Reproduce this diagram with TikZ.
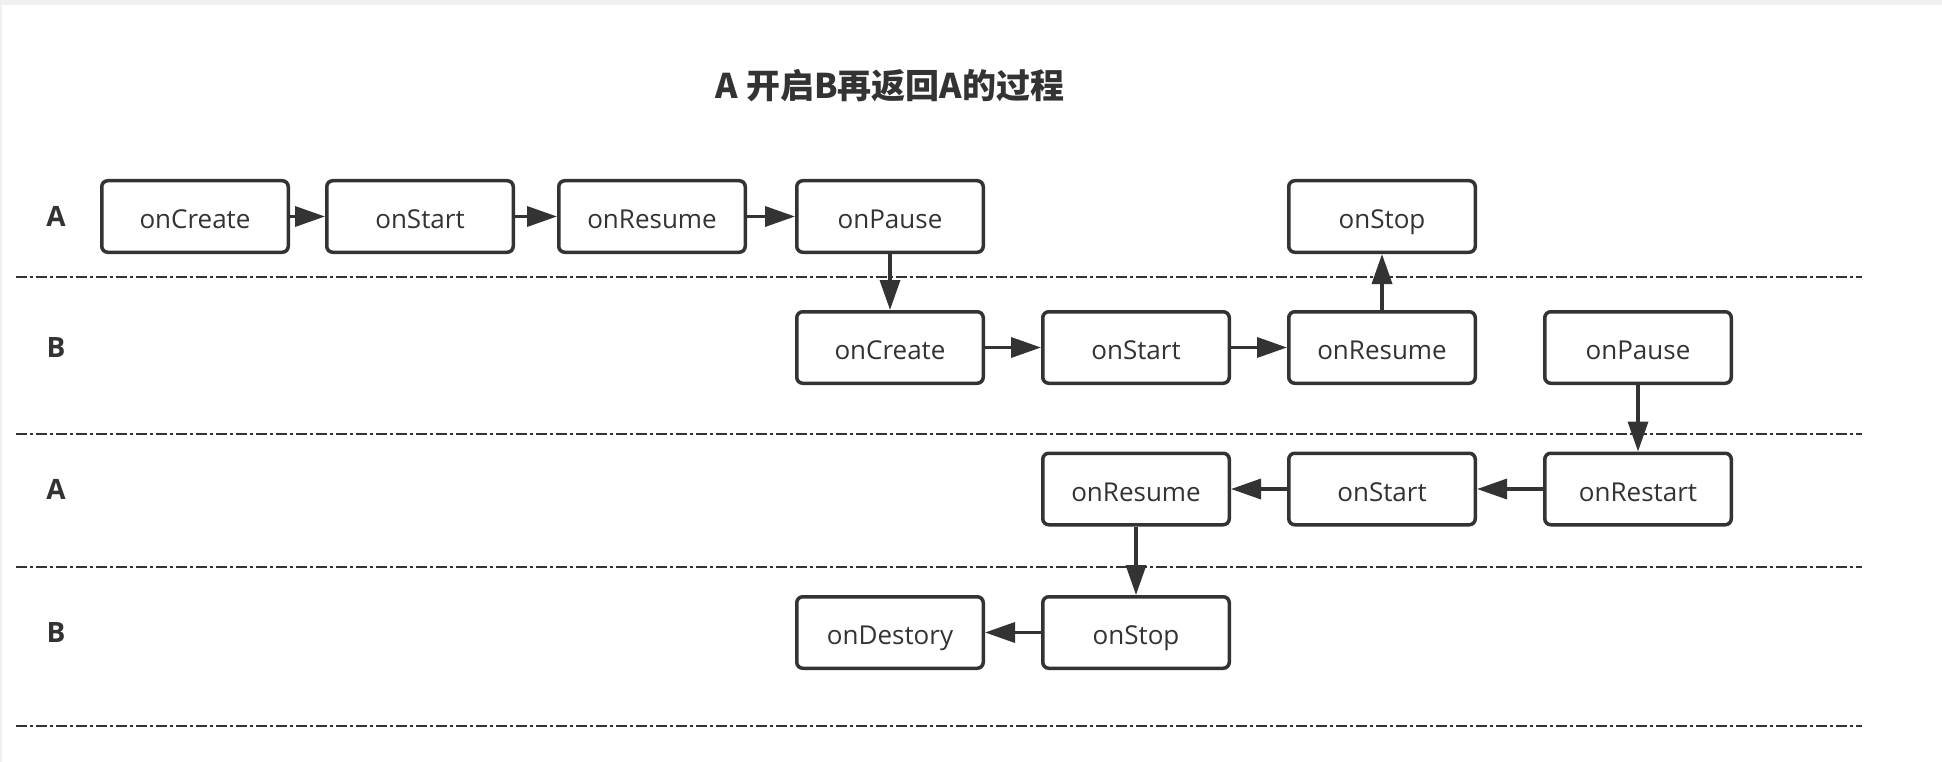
\documentclass[tikz,border=0pt]{standalone}
\usepackage{fontspec}
\setmainfont{Open Sans}
\newfontfamily\cjk{Noto Sans CJK SC}
\usetikzlibrary{arrows.meta}
\definecolor{ink}{HTML}{333333}
\definecolor{bar}{HTML}{F0F0F0}
\tikzset{
	stage/.style={draw=ink, line width=3.5pt, rounded corners=6pt, minimum width=186.5pt, minimum height=71.5pt, inner sep=0pt, text height=27pt, text depth=3pt, fill=white, text=ink, font=\fontsize{26}{30}\selectfont},
	flow/.style={draw=ink, line width=3.5pt, -{Triangle[length=30pt,width=20pt]}},
	lane/.style={draw=ink, line width=2.3pt, dash pattern=on 11pt off 3pt on 3pt off 3pt},
	who/.style={text=ink, font=\bfseries\fontsize{28}{32}\selectfont}
}
\begin{document}
\begin{tikzpicture}[x=1pt,y=-1pt]
	%page
	\useasboundingbox (0,0) rectangle (1942,762);
	\fill[white] (0,0) rectangle (1942,762);
	\fill[bar] (0,0) rectangle (1942,5);
	\fill[bar] (0,0) rectangle (1.5,762);
	
	%title
	\node[text=ink, font=\cjk\bfseries\fontsize{34}{38}\selectfont] (title) at (890,86) {A 开启B再返回A的过程};
	
	%lane separators
	\draw[lane] (16,277)--(1862,277);		%A | B
	\draw[lane] (16,434)--(1862,434);		%B | A
	\draw[lane] (16,567)--(1862,567);		%A | B
	\draw[lane] (16,726)--(1862,726);		%bottom
	
	%lane labels
	\node[who] (laneA) at (56,216.5) {A};
	\node[who] (laneB) at (56,347.5) {B};
	\node[who] (laneAA) at (56,489) {A};
	\node[who] (laneBB) at (56,632.5) {B};
	
	%A starts
	\node[stage] (acreate) at (195,216.5)  {onCreate};
	\node[stage] (astart)  at (420,216.5)  {onStart};
	\node[stage] (aresume) at (652,216.5)  {onResume};
	\node[stage] (apause)  at (890,216.5)  {onPause};
	\node[stage] (astop)   at (1382,216.5) {onStop};
	
	%B starts
	\node[stage] (bcreate) at (890,347.5)  {onCreate};
	\node[stage] (bstart)  at (1136,347.5) {onStart};
	\node[stage] (bresume) at (1382,347.5) {onResume};
	\node[stage] (bpause)  at (1638,347.5) {onPause};
	
	%back to A
	\node[stage] (aaresume)  at (1136,489) {onResume};
	\node[stage] (aastart)   at (1382,489) {onStart};
	\node[stage] (aarestart) at (1638,489) {onRestart};
	
	%B ends
	\node[stage] (bbdestory) at (890,632.5)  {onDestory};
	\node[stage] (bbstop)    at (1136,632.5) {onStop};
	
	%arrows
	\draw[flow] (acreate)--(astart);
	\draw[flow] (astart)--(aresume);
	\draw[flow] (aresume)--(apause);
	\draw[flow] (apause)--(bcreate);			%A -> B
	\draw[flow] (bcreate)--(bstart);
	\draw[flow] (bstart)--(bresume);
	\draw[flow] (bresume)--(astop);				%B up to A
	\draw[flow] (bpause)--(aarestart);		%B down to A
	\draw[flow] (aarestart)--(aastart);
	\draw[flow] (aastart)--(aaresume);
	\draw[flow] (aaresume)--(bbstop);			%A -> B
	\draw[flow] (bbstop)--(bbdestory);
\end{tikzpicture}
\end{document}
